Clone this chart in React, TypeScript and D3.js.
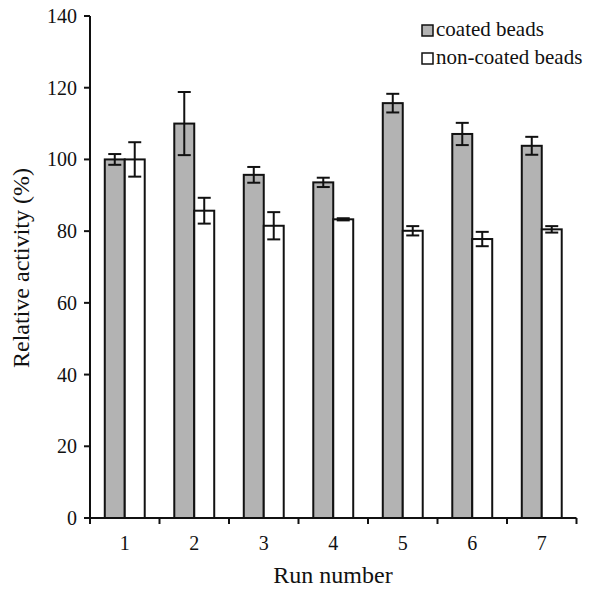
import React from 'react';
import * as d3 from 'd3';

const runs = ['1', '2', '3', '4', '5', '6', '7'];
const series = ['coated beads', 'non-coated beads'];
const coated = [100, 110, 95.7, 93.6, 115.7, 107.1, 103.8];
const coatedErr = [1.5, 8.8, 2.2, 1.3, 2.6, 3.1, 2.5];
const nonCoated = [100, 85.7, 81.5, 83.3, 80.1, 77.8, 80.5];
const nonCoatedErr = [4.8, 3.6, 3.8, 0.3, 1.3, 2.0, 0.9];
const yTicks = [0, 20, 40, 60, 80, 100, 120, 140];

const width = 596;
const height = 589;
const font = "'Liberation Serif', 'Times New Roman', Times, serif";
const fills = ['#b3b3b3', '#ffffff'];

const App = () => {
    const y = d3.scaleLinear().domain([0, 140]).range([518, 16]);
    const x0 = d3.scaleBand().domain(runs).range([90, 576.5]);
    const x1 = d3
        .scaleBand()
        .domain(series)
        .range([0, x0.bandwidth()])
        .paddingInner(0)
        .paddingOuter(0.74);

    const rows = runs.map((r, i) => ({
        run: r,
        vals: [
            { s: series[0], v: coated[i], e: coatedErr[i] },
            { s: series[1], v: nonCoated[i], e: nonCoatedErr[i] },
        ],
    }));

    const bounds = runs.map(r => x0(r)).concat([x0.range()[1]]);
    const txt = { fontFamily: font, fill: '#111' };
    const cap = 6.5;

    return (
        <svg width={width} height={height} style={{ position: 'absolute', left: 0, top: 0 }}>
            <rect width={width} height={height} fill="#fff" />
            {rows.map(row => (
                <g key={row.run} transform={`translate(${x0(row.run)},0)`}>
                    {row.vals.map((d, j) => {
                        const bx = x1(d.s);
                        const bw = x1.bandwidth();
                        const cx = bx + bw / 2;
                        return (
                            <g key={d.s}>
                                <rect
                                    x={bx}
                                    y={y(d.v)}
                                    width={bw}
                                    height={y(0) - y(d.v)}
                                    fill={fills[j]}
                                    stroke="#111"
                                    strokeWidth={2}
                                />
                                <line x1={cx} x2={cx} y1={y(d.v + d.e)} y2={y(d.v - d.e)} stroke="#111" strokeWidth={2} />
                                <line x1={cx - cap} x2={cx + cap} y1={y(d.v + d.e)} y2={y(d.v + d.e)} stroke="#111" strokeWidth={2} />
                                <line x1={cx - cap} x2={cx + cap} y1={y(d.v - d.e)} y2={y(d.v - d.e)} stroke="#111" strokeWidth={2} />
                            </g>
                        );
                    })}
                </g>
            ))}

            {/* y axis */}
            <line x1={90} x2={90} y1={y(140)} y2={y(0) + 6} stroke="#111" strokeWidth={2} />
            {yTicks.map(t => (
                <g key={t}>
                    <line x1={84} x2={90} y1={y(t)} y2={y(t)} stroke="#111" strokeWidth={2} />
                    <text x={77} y={y(t)} dy="0.35em" textAnchor="end" fontSize={20} style={txt}>
                        {t}
                    </text>
                </g>
            ))}

            {/* x axis */}
            <line x1={90} x2={x0.range()[1]} y1={y(0)} y2={y(0)} stroke="#111" strokeWidth={2} />
            {bounds.map((b, i) => (
                <line key={i} x1={b} x2={b} y1={y(0)} y2={y(0) + 6} stroke="#111" strokeWidth={2} />
            ))}
            {runs.map(r => (
                <text key={r} x={x0(r) + x0.bandwidth() / 2} y={550} textAnchor="middle" fontSize={20} style={txt}>
                    {r}
                </text>
            ))}

            <text x={333} y={583} textAnchor="middle" fontSize={24} style={txt}>
                Run number
            </text>
            <text transform="translate(29,268) rotate(-90)" textAnchor="middle" fontSize={24} style={txt}>
                Relative activity (%)
            </text>

            {/* legend */}
            {series.map((s, i) => (
                <g key={s} transform={`translate(422,${25 + i * 28})`}>
                    <rect x={0} y={0} width={11} height={11} fill={fills[i]} stroke="#111" strokeWidth={1.5} />
                    <text x={14} y={10.5} fontSize={21} style={txt}>
                        {s}
                    </text>
                </g>
            ))}
        </svg>
    );
};

export default App;
